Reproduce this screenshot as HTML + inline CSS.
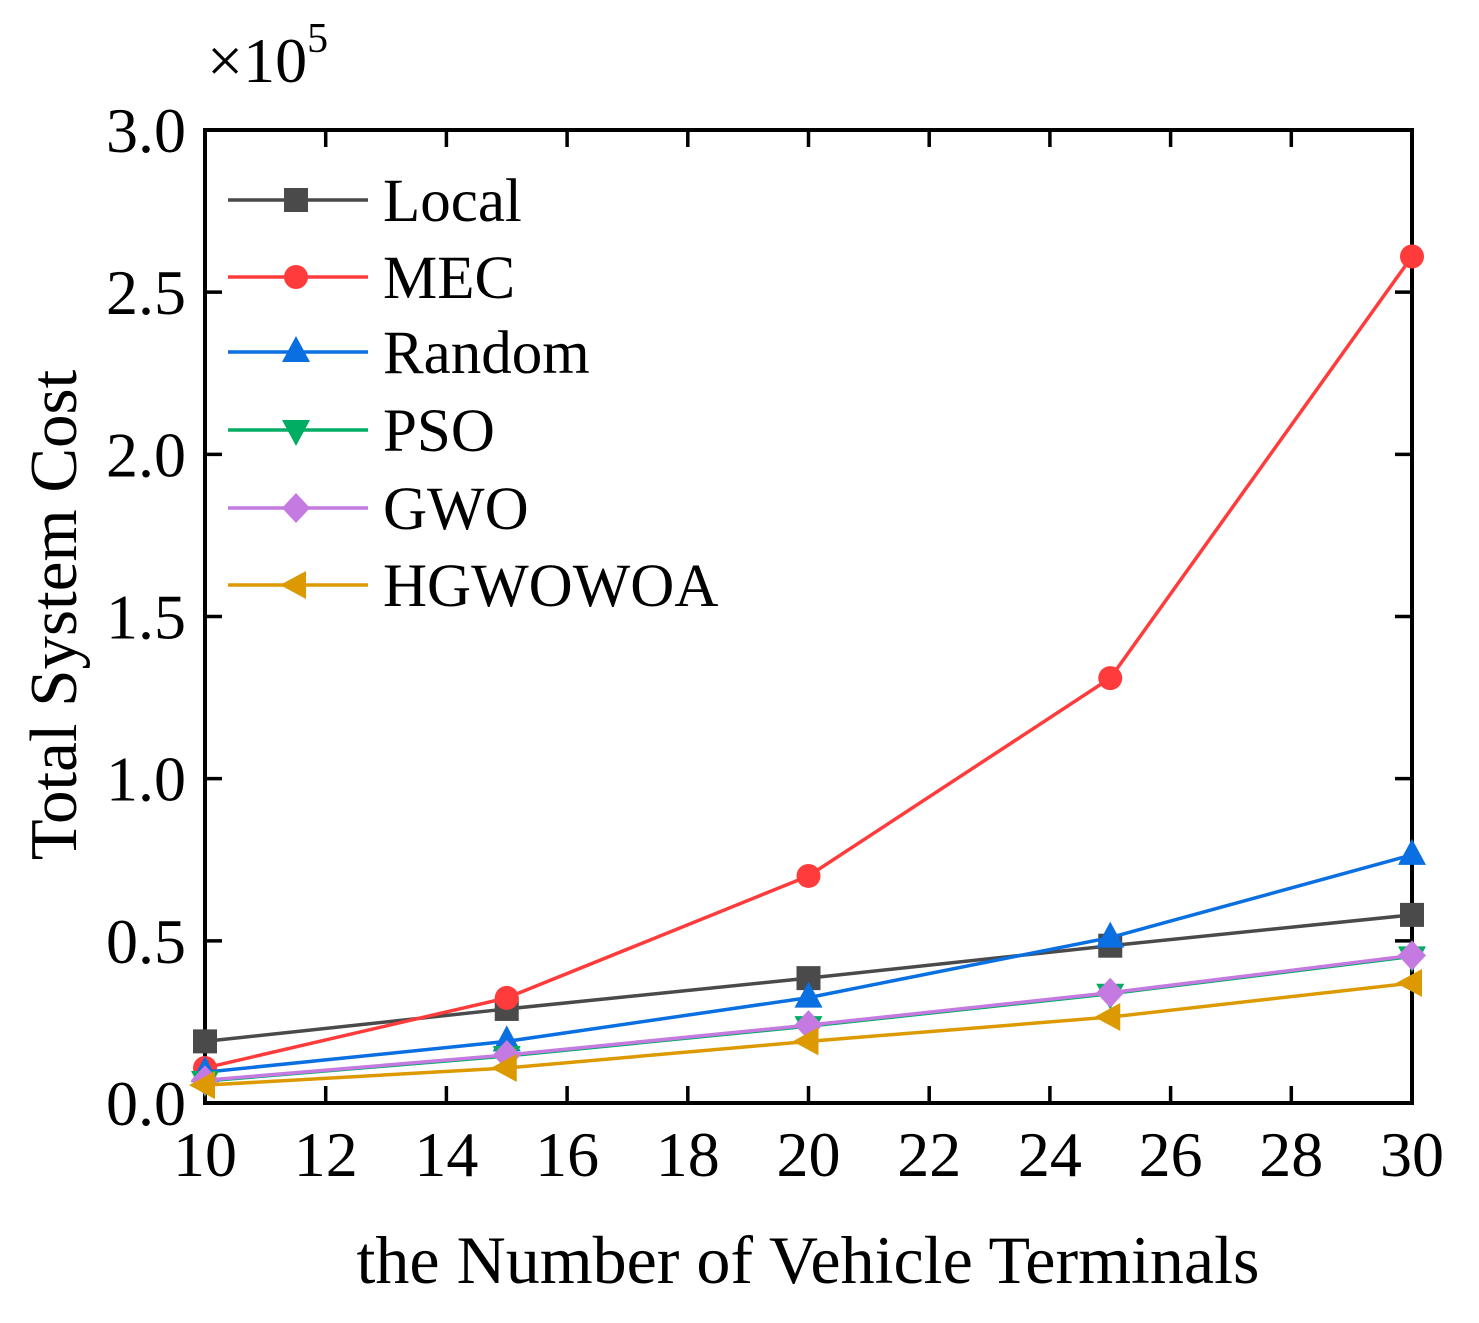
<!DOCTYPE html>
<html><head><meta charset="utf-8"><style>
html,body{margin:0;padding:0;background:#fff;}
svg{display:block;font-family:"Liberation Serif",serif;}
</style></head><body>
<svg id="chart" width="1479" height="1323" viewBox="0 0 1479 1323">
<g id="axes"></g><g id="series"></g><g id="legend"></g>
<text x="207" y="82" font-size="64">×10<tspan font-size="42" dy="-30">5</tspan></text>
<text x="808" y="1283" font-size="68" text-anchor="middle">the Number of Vehicle Terminals</text>
<text transform="translate(76,615) rotate(-90)" font-size="67" text-anchor="middle">Total System Cost</text>
</svg>
<script>
const categories=[10,15,20,25,30];
const localVals=[0.19,0.29,0.385,0.485,0.58];
const mecVals=[0.108,0.324,0.70,1.31,2.61];
const randomVals=[0.095,0.19,0.325,0.51,0.765];
const psoVals=[0.068,0.145,0.237,0.337,0.452];
const gwoVals=[0.07,0.148,0.24,0.34,0.455];
const hgwVals=[0.055,0.108,0.19,0.265,0.37];
const xTicks=[10,12,14,16,18,20,22,24,26,28,30];
const yTicks=[0,0.5,1.0,1.5,2.0,2.5,3.0];
const seriesNames=["Local","MEC","Random","PSO","GWO","HGWOWOA"];
const NS="http://www.w3.org/2000/svg";
const L=205,R=1412,T=130,B=1103;
const xs=v=>L+(v-10)/20*(R-L);
const ys=v=>B-v/3*(B-T);
function mk(tag,attrs,parent){const e=document.createElementNS(NS,tag);for(const k in attrs)e.setAttribute(k,attrs[k]);parent.appendChild(e);return e;}
const axes=document.getElementById('axes');
xTicks.forEach(t=>{
 const x=xs(t);
 const a=mk('line',{x1:x,x2:x,y1:B,y2:B-17,stroke:'#000','stroke-width':3.5},axes);
 
 
 const b=mk('line',{x1:x,x2:x,y1:T,y2:T+17,stroke:'#000','stroke-width':3.5},axes);
 
 
 const tx=mk('text',{x:x,y:1176,'font-size':64,'text-anchor':'middle'},axes);tx.textContent=t;
 
 
});
yTicks.forEach(t=>{
 const y=ys(t);
 const a=mk('line',{x1:L,x2:L+17,y1:y,y2:y,stroke:'#000','stroke-width':3.5},axes);
 
 
 const b=mk('line',{x1:R,x2:R-17,y1:y,y2:y,stroke:'#000','stroke-width':3.5},axes);
 
 
 const tx=mk('text',{x:186,y:y+22,'font-size':64,'text-anchor':'end'},axes);tx.textContent=t.toFixed(1);
 
 
});
const frame=mk('rect',{x:L,y:T,width:R-L,height:B-T,fill:'none',stroke:'#000','stroke-width':4},axes);


const colors=['#4a4a4a','#ff3b3b','#0a6fe0','#00ad62','#c47ae0','#dd9a00'];
const marks=['square','circle','up','down','diamond','left'];
const data=[localVals,mecVals,randomVals,psoVals,gwoVals,hgwVals];
function marker(kind,x,y,c,p){
 const s=12;let e;
 if(kind==='square')e=mk('rect',{x:x-s,y:y-s,width:2*s,height:2*s,fill:c},p);
 else if(kind==='circle')e=mk('circle',{cx:x,cy:y,r:s,fill:c},p);
 else if(kind==='up')e=mk('polygon',{points:`${x},${y-16} ${x-14},${y+10} ${x+14},${y+10}`,fill:c},p);
 else if(kind==='down')e=mk('polygon',{points:`${x},${y+16} ${x-14},${y-10} ${x+14},${y-10}`,fill:c},p);
 else if(kind==='diamond')e=mk('polygon',{points:`${x},${y-15} ${x+14},${y} ${x},${y+15} ${x-14},${y}`,fill:c},p);
 else e=mk('polygon',{points:`${x-16},${y} ${x+10},${y-14} ${x+10},${y+14}`,fill:c},p);
 return e;
}
const sg=document.getElementById('series');
data.forEach((vals,i)=>{
 const g=mk('g',{},sg);
 
 
 const pl=mk('polyline',{points:vals.map((v,j)=>xs(categories[j])+','+ys(v)).join(' '),fill:'none',stroke:colors[i],'stroke-width':3.5},g);
 
 
 vals.forEach((v,j)=>{
  const m=marker(marks[i],xs(categories[j]),ys(v),colors[i],g);
  
  
 });
});
const lg=document.getElementById('legend');
const rows=[200,277,352,430,508,585];
seriesNames.forEach((n,i)=>{
 const g=mk('g',{},lg);
 
 
 mk('line',{x1:228,x2:368,y1:rows[i],y2:rows[i],stroke:colors[i],'stroke-width':3.5},g);
 marker(marks[i],296,rows[i],colors[i],g);
 const t=mk('text',{x:383,y:rows[i]+21,'font-size':61},g);t.textContent=n;
});
</script>
</body></html>
